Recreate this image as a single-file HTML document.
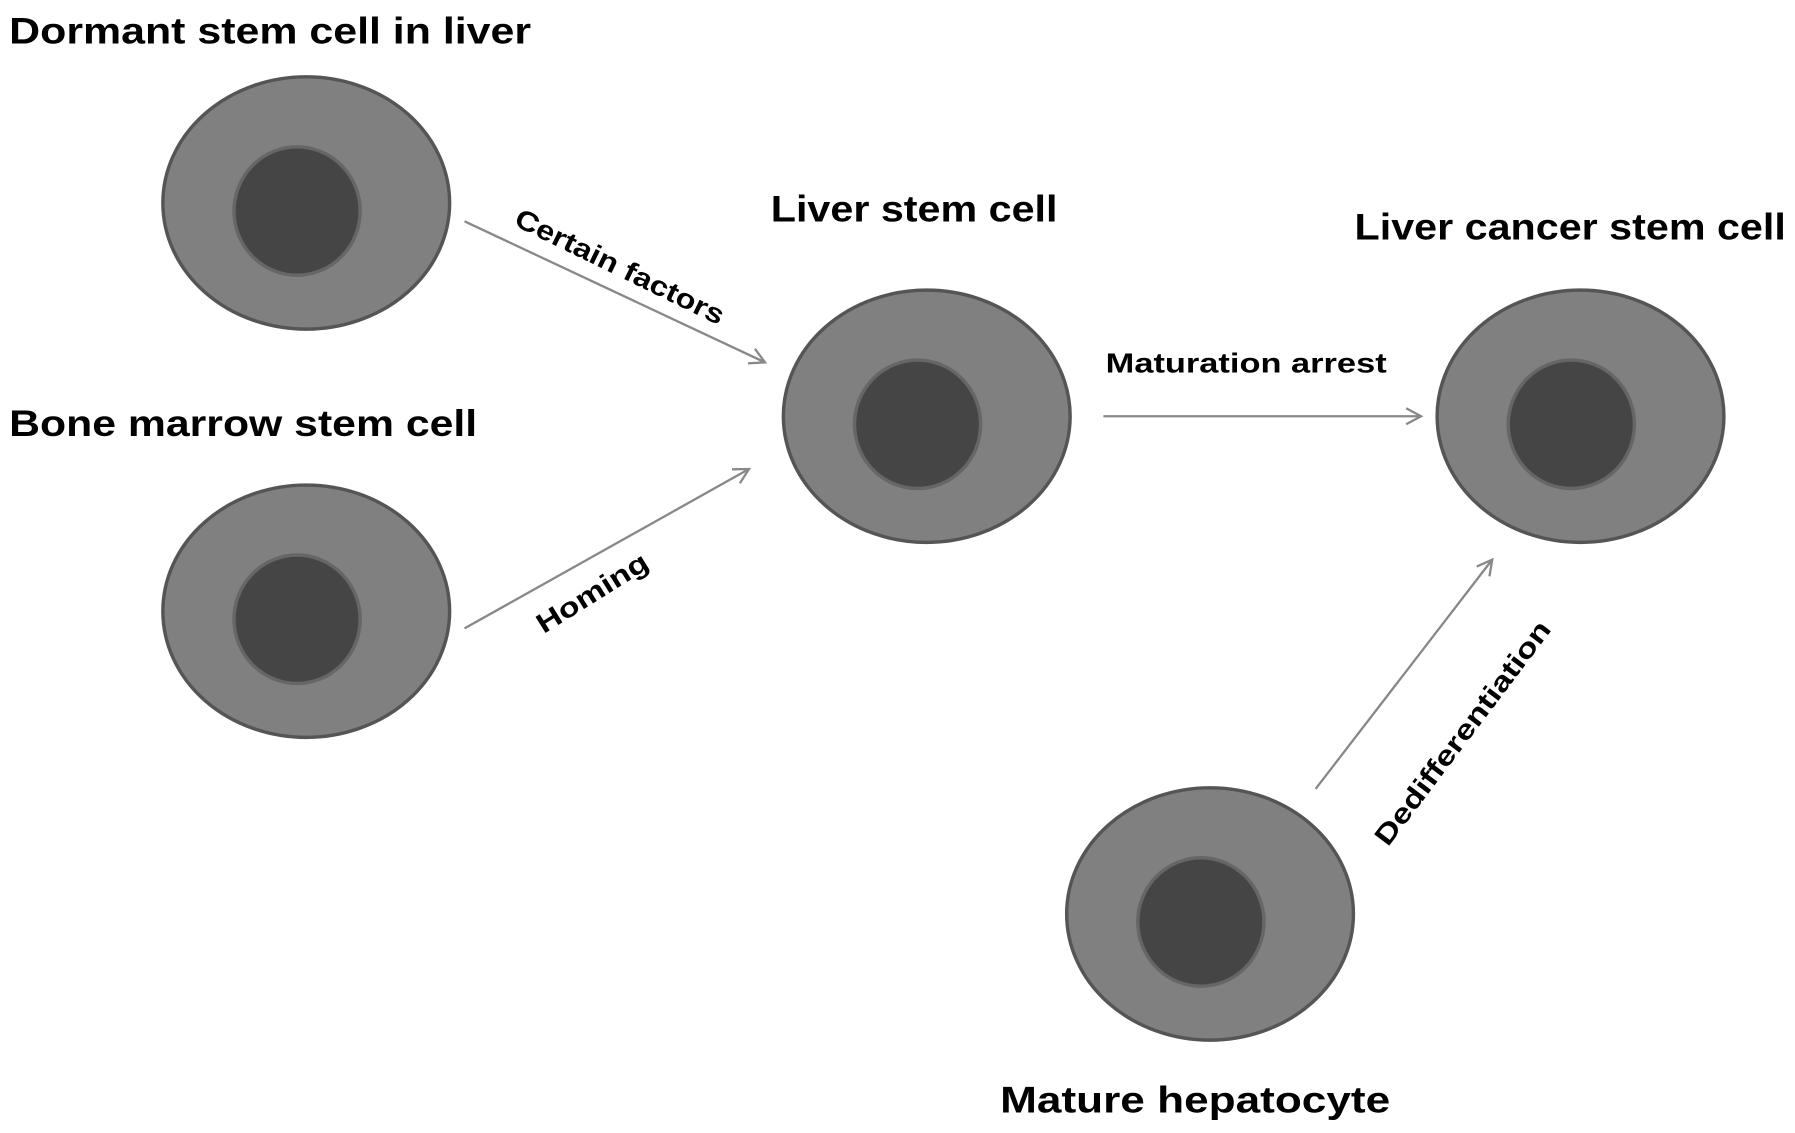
<!DOCTYPE html>
<html><head><meta charset="utf-8"><style>html,body{margin:0;padding:0;background:#fff}svg{display:block}</style></head>
<body>
<svg width="1795" height="1133" viewBox="0 0 1565 988" preserveAspectRatio="none" xmlns="http://www.w3.org/2000/svg">
<defs>
<marker id="a" markerWidth="20" markerHeight="20" refX="14" refY="8" orient="auto" markerUnits="userSpaceOnUse">
<path d="M1,1 L14,8 L1,15" fill="none" stroke="#888" stroke-width="2"/>
</marker>
<g id="cell">
<ellipse cx="0" cy="0" rx="125" ry="110" fill="#808080" stroke="#555" stroke-width="3"/>
<ellipse cx="-8" cy="7" rx="55" ry="56" fill="#454545" stroke="#666" stroke-width="3"/>
</g>
</defs>
<use href="#cell" x="267" y="177"/>
<use href="#cell" x="267" y="533"/>
<use href="#cell" x="808" y="363"/>
<use href="#cell" x="1378" y="363"/>
<use href="#cell" x="1055" y="797"/>
<g stroke="#888" stroke-width="2" fill="none" marker-end="url(#a)">
<line x1="405" y1="193" x2="667" y2="316"/>
<line x1="405" y1="548" x2="653" y2="409"/>
<line x1="962" y1="363" x2="1239" y2="363"/>
<line x1="1147" y1="688" x2="1301" y2="488"/>
</g>
<g font-family="'Liberation Sans', sans-serif" font-weight="bold" fill="#000">
<text x="8" y="38" font-size="32" textLength="455" lengthAdjust="spacingAndGlyphs">Dormant stem cell in liver</text>
<text x="8" y="380" font-size="32" textLength="408" lengthAdjust="spacingAndGlyphs">Bone marrow stem cell</text>
<text x="672" y="193" font-size="32" textLength="250" lengthAdjust="spacingAndGlyphs">Liver stem cell</text>
<text x="1181" y="209" font-size="32" textLength="376" lengthAdjust="spacingAndGlyphs">Liver cancer stem cell</text>
<text x="872" y="970" font-size="32" textLength="340" lengthAdjust="spacingAndGlyphs">Mature hepatocyte</text>
<text x="964" y="325" font-size="24" textLength="245" lengthAdjust="spacingAndGlyphs">Maturation arrest</text>
<text transform="translate(447,196) rotate(26)" font-size="24" textLength="200" lengthAdjust="spacingAndGlyphs">Certain factors</text>
<text transform="translate(474,553) rotate(-32)" font-size="24" textLength="110" lengthAdjust="spacingAndGlyphs">Homing</text>
<text transform="translate(1210,739) rotate(-53)" font-size="24" textLength="238" lengthAdjust="spacingAndGlyphs">Dedifferentiation</text>
</g>
</svg>
</body></html>
